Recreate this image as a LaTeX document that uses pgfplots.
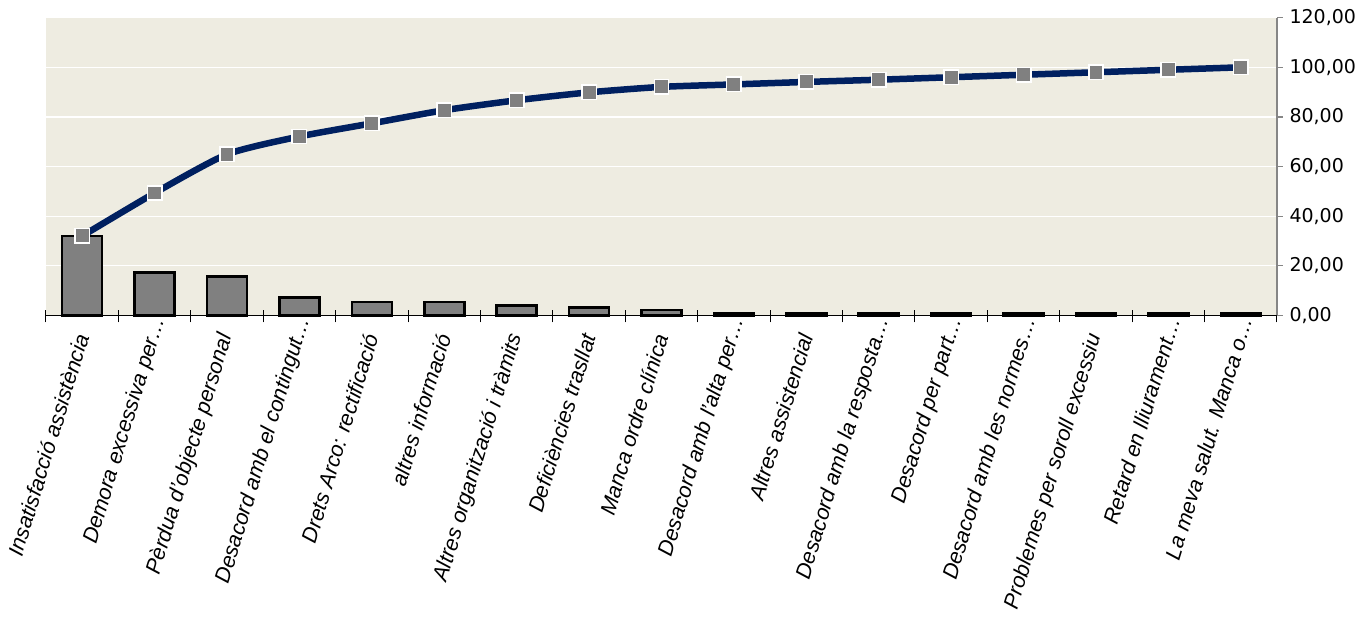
\documentclass[border=0pt]{standalone}
\usepackage{pgfplots}
\pgfplotsset{compat=1.18}
\usepackage{fontspec}
\setmainfont{Liberation Sans}
\newfontfamily\yfont{DejaVu Sans}
\definecolor{bgc}{RGB}{238,236,225}
\definecolor{navy}{RGB}{0,32,96}
\definecolor{barg}{RGB}{128,128,128}
\definecolor{axg}{RGB}{134,134,134}
\newcommand{\el}{…\kern-0.8em}
\begin{document}
\begin{tikzpicture}
\useasboundingbox (-46bp,-304.7bp) rectangle (1320bp,315.3bp);
\begin{axis}[
  at={(0,0)}, anchor=south west,
  scale only axis, width=1231bp, height=297.6bp,
  xmin=-0.5, xmax=16.5, ymin=0, ymax=120,
  axis background/.style={fill=bgc},
  axis x line*=bottom, axis y line*=right,
  x axis line style={black, line width=1bp},
  y axis line style={axg, line width=1.5bp},
  xtick={0,...,16},
  xticklabels={{Insatisfacció assistència},{Demora excessiva per\el},{Pèrdua d'objecte personal},{Desacord amb el contingut\el},{Drets Arco: rectificació},{altres informació},{Altres organització i tràmits},{Deficiències trasllat},{Manca ordre clínica},{Desacord amb l'alta per\el},{Altres assistencial},{Desacord amb la resposta\el},{Desacord per part\el},{Desacord amb les normes\el},{Problemes per soroll excessiu},{Retard en lliurament\el},{La meva salut. Manca o\el}},
  minor xtick={-0.5,0.5,...,16.5},
  major x tick style={draw=none},
  minor x tick style={black, line width=1bp, yshift=5bp},
  minor tick length=12bp,
  major tick length=6bp,
  tick align=outside,
  xticklabel shift=13bp,
  xticklabel style={font=\fontsize{21.5bp}{24bp}\selectfont\itshape, rotate=73, anchor=east, inner sep=0pt},
  ytick={0,20,...,120},
  major y tick style={axg, line width=1.2bp},
  ymajorgrids, y grid style={white, line width=1.2bp},
  yticklabel style={font=\fontsize{19bp}{21bp}\yfont, xshift=3bp},
  /pgf/number format/assume math mode=true,
  yticklabel={\pgfmathprintnumber[fixed,fixed zerofill,precision=2,use comma]{\tick}},
  clip=false,
]
\addplot[ybar, bar width=40bp, fill=barg, draw=black, line width=2.5bp]
  coordinates {(0,32.0) (1,17.3) (2,15.6) (3,7.2) (4,5.3) (5,5.3) (6,4.0) (7,3.2) (8,2.2) (9,1.0) (10,1.0) (11,1.0) (12,1.0) (13,1.0) (14,1.0) (15,1.0) (16,1.0)};
\addplot[navy, line width=6.5bp, smooth, tension=0.4, mark=square*, mark size=7.2bp,
  mark options={fill=barg, draw=white, line width=1.5bp}]
  coordinates {(0,32.0) (1,49.3) (2,64.9) (3,72.1) (4,77.4) (5,82.7) (6,86.7) (7,89.9) (8,92.1) (9,93.1) (10,94.1) (11,95.0) (12,96.0) (13,97.0) (14,98.0) (15,99.0) (16,100.0)};
\end{axis}
\end{tikzpicture}
\end{document}
